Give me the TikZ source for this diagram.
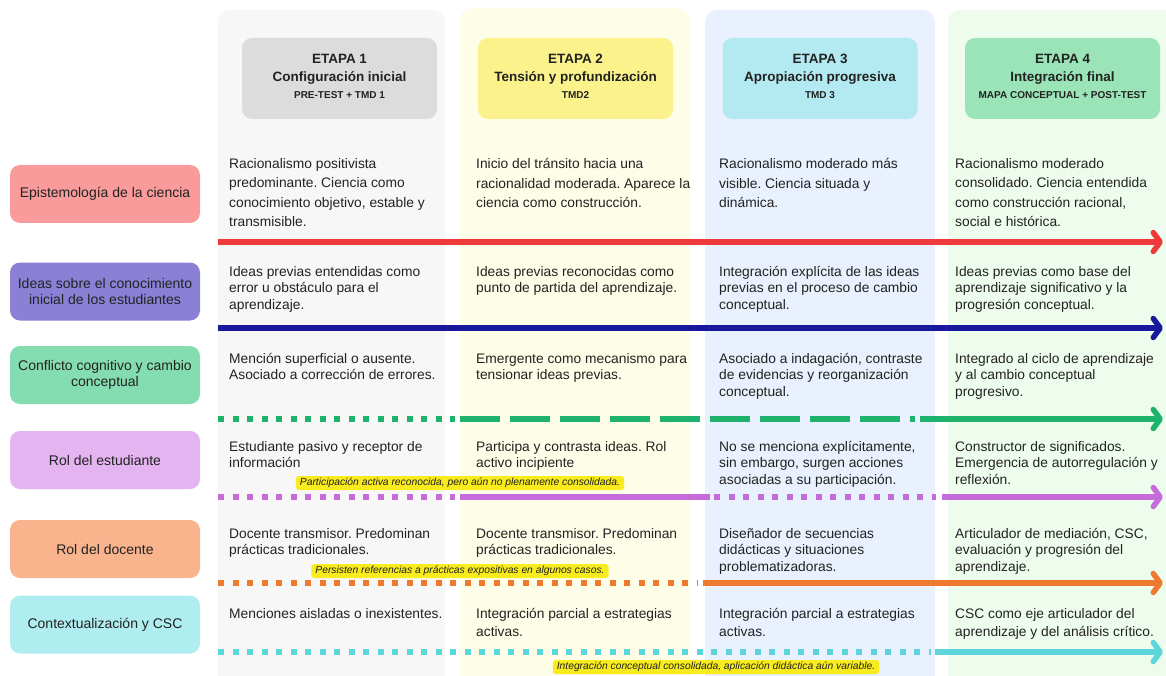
\documentclass[tikz,border=0pt]{standalone}
\usepackage{fontspec}
\setmainfont{Liberation Sans}
\usetikzlibrary{arrows.meta}
\definecolor{bgA}{HTML}{F7F7F8}
\definecolor{bgB}{HTML}{FEFDE7}
\definecolor{bgC}{HTML}{E8F1FD}
\definecolor{bgD}{HTML}{EEFCEE}
\definecolor{hdA}{HTML}{DCDCDC}
\definecolor{hdB}{HTML}{FBF28C}
\definecolor{hdC}{HTML}{B3EAF2}
\definecolor{hdD}{HTML}{9AE4B8}
\definecolor{lbA}{HTML}{F99B9B}
\definecolor{lbB}{HTML}{8A80D6}
\definecolor{lbC}{HTML}{84DDB1}
\definecolor{lbD}{HTML}{E3B4F0}
\definecolor{lbE}{HTML}{F9B48E}
\definecolor{lbF}{HTML}{AFEDF1}
\definecolor{lnA}{HTML}{EE3A3A}
\definecolor{lnB}{HTML}{18189C}
\definecolor{lnC}{HTML}{1EB36C}
\definecolor{lnD}{HTML}{C66CDA}
\definecolor{lnE}{HTML}{EE7A2F}
\definecolor{lnF}{HTML}{5CD6DA}
\definecolor{notec}{HTML}{F8EB1E}
\definecolor{txt}{HTML}{222222}
\newcommand{\fl}{\rule{0pt}{10pt}}
\frenchspacing
\begin{document}
\begin{tikzpicture}[x=1pt,y=-1pt,
  hdbox/.style={rounded corners=10pt, minimum width=195pt, minimum height=81pt, inner sep=0pt},
  hdone/.style={font=\fontsize{13.5}{15}\selectfont\bfseries, text=txt, inner sep=0pt},
  hdsub/.style={font=\fontsize{10}{12}\selectfont\bfseries, text=txt, inner sep=0pt},
  lab/.style={rounded corners=10pt, minimum width=190pt, minimum height=58pt, align=center, inner sep=0pt, font=\fontsize{14}{16.5}\selectfont, text=txt},
  cell/.style={anchor=north west, inner sep=0pt, align=left, text=txt, font=\fontsize{13.8}{16.5}\selectfont\frenchspacing},
  cellA/.style={cell, font=\fontsize{13.8}{19.3}\selectfont\frenchspacing},
  cellF/.style={cell, font=\fontsize{13.8}{18}\selectfont\frenchspacing},
  ln/.style={line width=5.5pt},
  dotl/.style={ln, dash pattern=on 6pt off 8.5pt},
  dashl/.style={ln, dash pattern=on 40pt off 10pt},
  arr/.style={-{Straight Barb[length=7pt,width=19pt,round]}},
  note/.style={fill=notec, rounded corners=3pt, inner xsep=4pt, inner ysep=0pt, minimum height=14pt, font=\fontsize{10.3}{12}\selectfont\itshape, text=txt}
]
\useasboundingbox (0,0) rectangle (1166,676);
\fill[white] (0,0) rectangle (1166,676);
% column backgrounds
\fill[bgA, rounded corners=12pt] (218,10) rectangle (445,720);
\fill[bgB, rounded corners=12pt] (460,8) rectangle (690,720);
\fill[bgC, rounded corners=12pt] (705,10) rectangle (935,720);
\fill[bgD, rounded corners=12pt] (948,10) rectangle (1190,720);
% headers
\node[hdbox, fill=hdA] (h1) at (339.5,78.5) {};
\node[hdbox, fill=hdB] (h2) at (575.5,78.5) {};
\node[hdbox, fill=hdC] (h3) at (820,78.5) {};
\node[hdbox, fill=hdD] (h4) at (1062.5,78.5) {};
\node[hdone] (h1a) at (339.5,59) {ETAPA 1};
\node[hdone] (h1b) at (339.5,78) {Configuración inicial};
\node[hdsub] (h1c) at (339.5,95) {PRE-TEST + TMD 1};
\node[hdone] (h2a) at (575.5,59) {ETAPA 2};
\node[hdone] (h2b) at (575.5,78) {Tensión y profundización};
\node[hdsub] (h2c) at (575.5,95) {TMD2};
\node[hdone] (h3a) at (820,59) {ETAPA 3};
\node[hdone] (h3b) at (820,78) {Apropiación progresiva};
\node[hdsub] (h3c) at (820,95) {TMD 3};
\node[hdone] (h4a) at (1062.5,59) {ETAPA 4};
\node[hdone] (h4b) at (1062.5,78) {Integración final};
\node[hdsub] (h4c) at (1062.5,95) {MAPA CONCEPTUAL + POST-TEST};
% row labels
\node[lab, fill=lbA] (l1) at (105,194) {Epistemología de la ciencia};
\node[lab, fill=lbB] (l2) at (105,291.5) {Ideas sobre el conocimiento\\inicial de los estudiantes};
\node[lab, fill=lbC] (l3) at (105,375) {Conflicto cognitivo y cambio\\conceptual};
\node[lab, fill=lbD] (l4) at (105,460) {Rol del estudiante};
\node[lab, fill=lbE] (l5) at (105,549) {Rol del docente};
\node[lab, fill=lbF] (l6) at (105,624.5) {Contextualización y CSC};
% row 1
\node[cellA] (a1) at (229,158.5) {\fl Racionalismo positivista\\predominante. Ciencia como\\conocimiento objetivo, estable y\\transmisible.};
\node[cellA] (a2) at (476,158.5) {\fl Inicio del tránsito hacia una\\racionalidad moderada. Aparece la\\ciencia como construcción.};
\node[cellA] (a3) at (719,158.5) {\fl Racionalismo moderado más\\visible. Ciencia situada y\\dinámica.};
\node[cellA] (a4) at (955,158.5) {\fl Racionalismo moderado\\consolidado. Ciencia entendida\\como construcción racional,\\social e histórica.};
% row 2
\node[cell] (b1) at (229,266) {\fl Ideas previas entendidas como\\error u obstáculo para el\\aprendizaje.};
\node[cell] (b2) at (476,266) {\fl Ideas previas reconocidas como\\punto de partida del aprendizaje.};
\node[cell] (b3) at (719,266) {\fl Integración explícita de las ideas\\previas en el proceso de cambio\\conceptual.};
\node[cell] (b4) at (955,266) {\fl Ideas previas como base del\\aprendizaje significativo y la\\progresión conceptual.};
% row 3
\node[cell] (c1) at (229,353) {\fl Mención superficial o ausente.\\Asociado a corrección de errores.};
\node[cell] (c2) at (476,353) {\fl Emergente como mecanismo para\\tensionar ideas previas.};
\node[cell] (c3) at (719,353) {\fl Asociado a indagación, contraste\\de evidencias y reorganización\\conceptual.};
\node[cell] (c4) at (955,353) {\fl Integrado al ciclo de aprendizaje\\y al cambio conceptual\\progresivo.};
% row 4
\node[cell] (d1) at (229,441) {\fl Estudiante pasivo y receptor de\\información};
\node[cell] (d2) at (476,441) {\fl Participa y contrasta ideas. Rol\\activo incipiente};
\node[cell] (d3) at (719,441) {\fl No se menciona explícitamente,\\sin embargo, surgen acciones\\asociadas a su participación.};
\node[cell] (d4) at (955,441) {\fl Constructor de significados.\\Emergencia de autorregulación y\\reflexión.};
% row 5
\node[cell] (e1) at (229,528) {\fl Docente transmisor. Predominan\\prácticas tradicionales.};
\node[cell] (e2) at (476,528) {\fl Docente transmisor. Predominan\\prácticas tradicionales.};
\node[cell] (e3) at (719,528) {\fl Diseñador de secuencias\\didácticas y situaciones\\problematizadoras.};
\node[cell] (e4) at (955,528) {\fl Articulador de mediación, CSC,\\evaluación y progresión del\\aprendizaje.};
% row 6
\node[cellF] (f1) at (229,608) {\fl Menciones aisladas o inexistentes.};
\node[cellF] (f2) at (476,608) {\fl Integración parcial a estrategias\\activas.};
\node[cellF] (f3) at (719,608) {\fl Integración parcial a estrategias\\activas.};
\node[cellF] (f4) at (955,608) {\fl CSC como eje articulador del\\aprendizaje y del análisis crítico.};
% timeline coordinates
\coordinate (rA) at (218,242); \coordinate (rB) at (1163,242);
\coordinate (nA) at (218,328); \coordinate (nB) at (1163,328);
\coordinate (gA) at (218,419); \coordinate (gB) at (455,419); \coordinate (gC) at (460,419); \coordinate (gD) at (915,419); \coordinate (gE) at (920,419); \coordinate (gF) at (1163,419);
\coordinate (pA) at (218,497); \coordinate (pB) at (455,497); \coordinate (pC) at (460,497); \coordinate (pD) at (710,497); \coordinate (pE) at (714,497); \coordinate (pF) at (936,497); \coordinate (pG) at (942,497); \coordinate (pH) at (1163,497);
\coordinate (oA) at (218,583); \coordinate (oB) at (697,583); \coordinate (oC) at (703,583); \coordinate (oD) at (1163,583);
\coordinate (cA) at (218,652); \coordinate (cB) at (931,652); \coordinate (cC) at (935,652); \coordinate (cD) at (1163,652);
% lines
\draw[ln, lnA, arr] (rA) -- (rB);
\draw[ln, lnB, arr] (nA) -- (nB);
\draw[dotl, lnC] (gA) -- (gB);
\draw[dashl, lnC] (gC) -- (gD);
\draw[ln, lnC, arr] (gE) -- (gF);
\draw[dotl, lnD] (pA) -- (pB);
\draw[ln, lnD] (pC) -- (pD);
\draw[dotl, lnD] (pE) -- (pF);
\draw[ln, lnD, arr] (pG) -- (pH);
\draw[dotl, lnE] (oA) -- (oB);
\draw[ln, lnE, arr] (oC) -- (oD);
\draw[dotl, lnF] (cA) -- (cB);
\draw[ln, lnF, arr] (cC) -- (cD);
% notes
\node[note] (n1) at (460,483) {Participación activa reconocida, pero aún no plenamente consolidada.};
\node[note] (n2) at (460,571) {Persisten referencias a prácticas expositivas en algunos casos.};
\node[note] (n3) at (716,667) {Integración conceptual consolidada, aplicación didáctica aún variable.};
\end{tikzpicture}
\end{document}
